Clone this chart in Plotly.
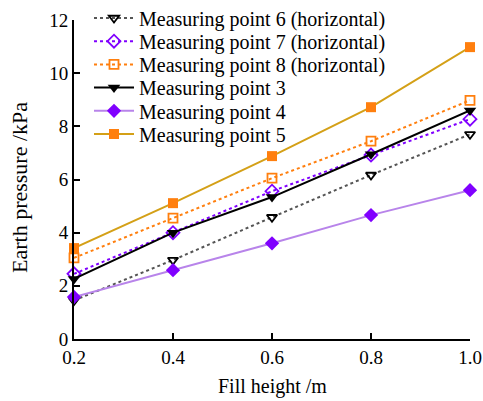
import plotly.graph_objects as go

fill_height = [0.2, 0.4, 0.6, 0.8, 1.0]
mp6_h = [1.45, 2.97, 4.58, 6.17, 7.70]
mp7_h = [2.45, 4.00, 5.56, 6.92, 8.27]
mp8_h = [3.05, 4.55, 6.05, 7.44, 8.98]
mp3 = [2.26, 4.00, 5.34, 6.95, 8.60]
mp4 = [1.58, 2.59, 3.60, 4.66, 5.60]
mp5 = [3.42, 5.11, 6.88, 8.72, 10.98]

x_ticks = [0.2, 0.4, 0.6, 0.8, 1.0]
x_tick_text = ["0.2", "0.4", "0.6", "0.8", "1.0"]
y_ticks = [0, 2, 4, 6, 8, 10, 12]

series = [
    ("Measuring point 6 (horizontal)", mp6_h, "#555555", "dot",
     dict(symbol="triangle-down-open", color="black", size=9, line=dict(width=1.8, color="black"))),
    ("Measuring point 7 (horizontal)", mp7_h, "#8000ff", "dot",
     dict(symbol="diamond-open", color="#8000ff", size=10, line=dict(width=1.8, color="#8000ff"))),
    ("Measuring point 8 (horizontal)", mp8_h, "#ff7f0e", "dot",
     dict(symbol="square-open", color="#ff7f0e", size=9, line=dict(width=1.8, color="#ff7f0e"))),
    ("Measuring point 3", mp3, "black", "solid",
     dict(symbol="triangle-down", color="black", size=11)),
    ("Measuring point 4", mp4, "#b884ea", "solid",
     dict(symbol="diamond", color="#8000ff", size=11)),
    ("Measuring point 5", mp5, "#d4a017", "solid",
     dict(symbol="square", color="#ff7f0e", size=10)),
]

font = "Liberation Serif"
W, H = 483, 401
fig = go.Figure()
legends = {}
for i, (name, ys, col, dash, mk) in enumerate(series):
    key = "legend" if i == 0 else f"legend{i + 1}"
    fig.add_trace(go.Scatter(
        x=fill_height, y=ys, name=name, mode="lines+markers",
        line=dict(color=col, width=2, dash=dash),
        marker=mk, cliponaxis=False, legend=key,
    ))
    legends[key] = dict(
        x=89 / W, y=1 - (18 + 23.2 * i) / H, xref="container", yref="container",
        xanchor="left", yanchor="middle", bgcolor="rgba(0,0,0,0)",
        font=dict(size=20, family=font), itemwidth=40,
    )

fig.update_layout(
    width=W, height=H,
    margin=dict(l=74, r=13, t=20, b=62, autoexpand=False),
    paper_bgcolor="white", plot_bgcolor="white",
    font=dict(family=font, size=19, color="black"),
    showlegend=True,
    xaxis=dict(range=[0.2, 1.0], tickvals=x_ticks, ticktext=x_tick_text,
               showgrid=False, zeroline=False, showline=True, linecolor="black",
               linewidth=2, ticks="inside", ticklen=6, tickwidth=2, tickcolor="black",
               automargin=False),
    yaxis=dict(range=[0, 12], tickvals=y_ticks,
               showgrid=False, zeroline=False, showline=True, linecolor="black",
               linewidth=2, ticks="inside", ticklen=6, tickwidth=2, tickcolor="black",
               automargin=False),
    annotations=[
        dict(text="Fill height /m", xref="paper", yref="paper", x=0.5, y=-(387 - 339) / 319,
             xanchor="center", yanchor="middle", showarrow=False, font=dict(size=20)),
        dict(text="Earth pressure /kPa", xref="paper", yref="paper", x=-(74 - 19) / 396,
             y=(339 - 188) / 319, xanchor="center", yanchor="middle", textangle=-90,
             showarrow=False, font=dict(size=22)),
    ],
)
fig.update_layout(**legends)

fig.write_html("out.html")
